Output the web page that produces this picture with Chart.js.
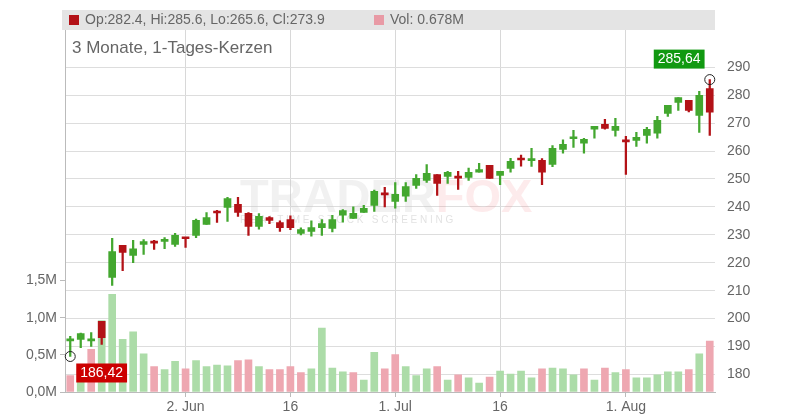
<!DOCTYPE html>
<html>
<head>
<meta charset="utf-8">
<script src="https://cdn.jsdelivr.net/npm/chart.js@4/dist/chart.umd.min.js"></script>
<style>
  body { margin: 0; background: #fff; }
  #wrap { width: 800px; height: 420px; position: relative; }
</style>
</head>
<body>
<div id="wrap"><canvas id="chart" width="800" height="420"></canvas></div>
<script>
// trading days, 16 May - 13 Aug
const dates = [
  "05-16","05-19","05-20","05-21","05-22","05-23","05-27","05-28","05-29","05-30",
  "05-31","06-02","06-03","06-04","06-05","06-06","06-09","06-10","06-11","06-12",
  "06-13","06-16","06-17","06-18","06-20","06-23","06-24","06-25","06-26","06-27",
  "06-30","07-01","07-02","07-03","07-07","07-08","07-09","07-10","07-11","07-14",
  "07-15","07-16","07-17","07-18","07-21","07-22","07-23","07-24","07-25","07-28",
  "07-29","07-30","07-31","08-01","08-04","08-05","08-06","08-07","08-08","08-11",
  "08-12","08-13"
];
const tickLabels = { "06-02": "2. Jun", "06-16": "16", "07-01": "1. Jul", "07-16": "16", "08-01": "1. Aug" };

const open = [192,192.5,192,199,214.7,226.2,222.6,226.6,227.5,227.6,226.6,228.9,229.8,233.7,238.4,239.8,240.9,237.7,233,236.2,
  234.4,235.5,230.5,231.2,232.6,232.3,237,235.9,238,240.5,244.8,242,243.8,247.7,249.5,251.6,250.9,251,250.6,252.4,
  254.9,251.3,253.8,257.2,256.6,256.7,255.2,260.6,264.4,262.8,267.8,269.6,267.4,263.8,263.8,265.6,266.4,273.5,277.4,278.2,
  272.8,282.4];
const close = [192.3,194.6,192.3,193.2,224,223.7,225,227.6,227,228.4,229.8,228.6,235.2,236.2,237.8,243,238,233,236.6,235.2,
  232.6,232.6,231.9,232.6,234,235.5,238.7,237.7,239.5,245.6,244.3,244.5,247.3,250.2,252,248.4,252.4,250.3,252.4,253.4,
  250.2,252.7,256.3,256.8,256.9,252.4,261,262.4,264.7,264.2,268.9,268.1,268.9,263.3,264.9,267.8,271,276.4,279.2,274.6,
  280,273.9];
const high = [193.6,194.8,195,199,228.7,226.2,228,228.3,228,229,230.5,229,235.6,238,238.8,243.4,243.4,238,237.6,236.5,
  235,236.8,232.5,235,235.5,237,239,240,240.6,246,247,248.7,248.7,251.6,255.2,251.6,252.7,252.7,253.9,255.6,
  254.9,252.7,257.4,258.6,261,257.3,262,264,267.4,264.6,268.9,271.4,271.7,265.3,266.7,268.5,272.4,276.4,279.2,278.2,
  281.4,285.6];
const low = [186.42,189.6,190,190.7,211.9,217.2,220,223,224.8,225,225.8,225.5,229,233.7,234.4,234.8,236.6,229.8,232,234,
  231.2,231.8,230,229.5,229.8,231,234.5,235.9,238,238.4,240,239.5,242,246.6,248.8,244.1,248.4,246.3,249.5,252.4,
  250.2,248,252.4,254.6,254.5,248,254.4,259.2,261.3,259.2,264.6,267.8,265.3,251.6,261.7,262.8,264.6,272.4,274.6,274,
  266.7,265.6];
// volume in millions, and whether the volume bar is drawn as "up"
const volume = [0.22,0.28,0.57,0.95,1.30,0.70,0.80,0.51,0.34,0.30,0.41,0.31,0.42,0.34,0.36,0.35,0.42,0.43,0.34,0.30,
  0.30,0.34,0.26,0.31,0.85,0.32,0.27,0.26,0.16,0.53,0.31,0.50,0.34,0.22,0.31,0.34,0.16,0.23,0.19,0.12,
  0.20,0.28,0.24,0.28,0.19,0.31,0.32,0.31,0.23,0.31,0.16,0.32,0.26,0.30,0.19,0.19,0.23,0.27,0.27,0.30,
  0.51,0.678];
const volumeUp = [0,1,0,1,1,1,1,1,0,1,1,0,1,1,1,1,0,0,1,0,
  0,0,0,1,1,1,1,0,1,1,0,0,1,1,1,0,1,0,1,1,
  0,1,1,1,1,0,1,1,1,0,1,0,1,0,1,1,1,1,1,0,
  1,0];

const GREEN = "#43a72f", RED = "#b31217";
const candleColors = open.map((o, i) => (close[i] >= o ? GREEN : RED));

const overlay = {
  id: "overlay",
  beforeDatasetsDraw(chart) {
    const ctx = chart.ctx, a = chart.chartArea;
    ctx.save();
    // watermark
    ctx.font = "bold 47px 'Liberation Sans'";
    ctx.textBaseline = "alphabetic";
    ctx.fillStyle = "rgba(200,200,200,0.25)";
    ctx.fillText("TRADER", 240, 212);
    const w = ctx.measureText("TRADER").width;
    ctx.fillStyle = "rgba(240,120,130,0.15)";
    ctx.fillText("FOX", 240 + w, 212);
    ctx.font = "10px 'Liberation Sans'";
    ctx.fillStyle = "rgba(190,190,190,0.45)";
    ctx.fillText("R E A L T I M E   S T O C K   S C R E E N I N G", 240, 223);
    // header
    ctx.fillStyle = "#e4e4e4";
    ctx.fillRect(a.left - 3, 10, a.right - a.left + 3, 20);
    ctx.font = "14px 'Liberation Sans'";
    ctx.textBaseline = "middle";
    ctx.fillStyle = RED;
    ctx.fillRect(69, 15, 10, 10);
    ctx.fillStyle = "#666";
    ctx.fillText("Op:282.4, Hi:285.6, Lo:265.6, Cl:273.9", 85, 20);
    ctx.fillStyle = "#e89aa5";
    ctx.fillRect(374, 15, 10, 10);
    ctx.fillStyle = "#666";
    ctx.fillText("Vol: 0.678M", 390, 20);
    ctx.font = "17px 'Liberation Sans'";
    ctx.fillText("3 Monate, 1-Tages-Kerzen", 72, 48);
    ctx.restore();
  },
  afterDatasetsDraw(chart) {
    const ctx = chart.ctx, x = chart.scales.x, y = chart.scales.y;
    const last = dates.length - 1;
    const marks = [
      { i: 0, v: low[0], text: "186,42", bg: "#cc0000", dx: 6, dy: 7 },
      { i: last, v: high[last], text: "285,64", bg: "#119911", dx: -56, dy: -30 }
    ];
    ctx.save();
    ctx.font = "14px 'Liberation Sans'";
    ctx.textBaseline = "middle";
    marks.forEach(m => {
      const px = x.getPixelForValue(m.i), py = y.getPixelForValue(m.v);
      ctx.beginPath();
      ctx.arc(px, py, 5, 0, Math.PI * 2);
      ctx.strokeStyle = "#222";
      ctx.lineWidth = 1;
      ctx.stroke();
      const tw = ctx.measureText(m.text).width + 8;
      ctx.fillStyle = m.bg;
      ctx.fillRect(px + m.dx, py + m.dy, tw, 19);
      ctx.fillStyle = "#fff";
      ctx.fillText(m.text, px + m.dx + 4, py + m.dy + 10);
    });
    ctx.restore();
  }
};

new Chart(document.getElementById("chart"), {
  type: "bar",
  data: {
    labels: dates,
    datasets: [
      {
        label: "wick",
        data: dates.map((d, i) => [low[i], high[i]]),
        backgroundColor: candleColors,
        barThickness: 1.6,
        yAxisID: "y",
        order: 1
      },
      {
        label: "body",
        data: dates.map((d, i) => [open[i], close[i]]),
        backgroundColor: candleColors,
        barThickness: 7,
        minBarLength: 2,
        yAxisID: "y",
        order: 0
      },
      {
        label: "volume",
        data: volume.map(v => v * 1e6),
        backgroundColor: volumeUp.map(u => (u ? "#acdca8" : "#eea7b1")),
        barThickness: 7,
        yAxisID: "vol",
        order: 2
      }
    ]
  },
  plugins: [overlay],
  options: {
    responsive: false,
    animation: false,
    layout: { padding: { top: 10, left: 0, right: 0, bottom: 0 } },
    plugins: { legend: { display: false }, tooltip: { enabled: false } },
    datasets: { bar: { grouped: false } },
    scales: {
      x: {
        offset: true,
        border: { color: "#bbb" },
        grid: {
          offset: false,
          color: ctx => (ctx.tick && tickLabels[dates[ctx.tick.value]] ? "#d8d8d8" : "transparent"),
          tickColor: ctx => (ctx.tick && tickLabels[dates[ctx.tick.value]] ? "#bbb" : "transparent"),
          tickLength: 5
        },
        ticks: {
          autoSkip: false,
          maxRotation: 0,
          color: "#666",
          font: { size: 14, family: "'Liberation Sans'" },
          padding: 2,
          callback: (v) => tickLabels[dates[v]] || ""
        },
        afterFit: s => { s.height = 28; }
      },
      y: {
        position: "right",
        min: 173.7,
        max: 306.8,
        border: { display: false },
        grid: {
          color: ctx => (ctx.tick && ctx.tick.value >= 180 && ctx.tick.value <= 290 ? "#dddddd" : "transparent"),
          drawTicks: false
        },
        ticks: {
          stepSize: 10,
          autoSkip: false,
          color: "#666",
          padding: 12,
          font: { size: 14, family: "'Liberation Sans'" },
          callback: v => (v >= 180 && v <= 290 ? v : "")
        },
        afterFit: s => { s.width = 85; }
      },
      vol: {
        position: "left",
        min: 0,
        max: 4.95e6,
        border: { color: "#bbb" },
        grid: {
          drawOnChartArea: false,
          tickLength: 5,
          tickColor: ctx => (ctx.tick && ctx.tick.value <= 1.6e6 ? "#bbb" : "transparent")
        },
        ticks: {
          stepSize: 5e5,
          autoSkip: false,
          color: "#666",
          padding: 3,
          font: { size: 14, family: "'Liberation Sans'" },
          callback: v => (v <= 1.6e6 ? (v / 1e6).toFixed(1).replace(".", ",") + "M" : "")
        },
        afterFit: s => { s.width = 65; }
      }
    }
  }
});
</script>
</body>
</html>
